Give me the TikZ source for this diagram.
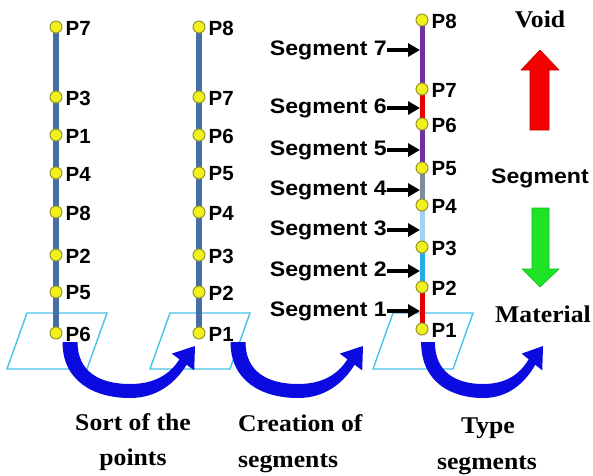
\documentclass[tikz,border=0pt]{standalone}
\usepackage{fontspec}
\setmainfont[FakeStretch=1.07]{Liberation Serif}
\setsansfont{Liberation Sans}
\newfontfamily\segfamily[FakeStretch=1.1]{Liberation Sans}
\usetikzlibrary{arrows.meta}
\definecolor{ptfill}{RGB}{240,240,30}
\definecolor{ptborder}{RGB}{150,150,40}
\definecolor{colblue}{RGB}{72,110,170}
\definecolor{paracol}{RGB}{70,195,230}
\definecolor{bigblue}{RGB}{10,10,225}
\definecolor{segpurple}{RGB}{112,48,160}
\definecolor{segred}{RGB}{230,0,0}
\definecolor{seggray}{RGB}{125,140,155}
\definecolor{seglight}{RGB}{165,210,240}
\definecolor{segsky}{RGB}{40,170,230}
\definecolor{upred}{RGB}{245,0,0}
\definecolor{downgreen}{RGB}{30,228,40}
\newcommand\ptlabfont{\sffamily\bfseries\fontsize{20.5}{20.5}\selectfont}
\newcommand\seglabfont{\segfamily\bfseries\fontsize{21}{21}\selectfont}
\newcommand\serlabfont{\rmfamily\bfseries\fontsize{24}{24}\selectfont}
\pgfdeclarelayer{back}
\pgfdeclarelayer{mid}
\pgfsetlayers{back,mid,main}
\tikzset{
  ptc/.style={circle, draw=ptborder, fill=ptfill, line width=1pt, minimum size=12pt, inner sep=0pt,
    label={[ptlab]right:#1}},
  ptlab/.style={font=\ptlabfont, inner sep=0pt, label distance=3pt, yshift=-1pt},
  colline/.style={draw=colblue, line width=6pt},
  segline/.style={line width=5pt},
  para/.style={draw=paracol, line width=1.4pt},
  seglab/.style={font=\seglabfont, inner sep=0pt, anchor=east},
  segarr/.style={line width=3.6pt, -{Triangle[length=12pt,width=13pt]}},
  sertext/.style={font=\serlabfont, inner sep=0pt, anchor=base},
  bigarrow/.style={fill=bigblue},
}
\newcommand\bigarrowshape{%
  (-7.5,0) .. controls (-7.5,40) and (25,56) .. (60,56)
  .. controls (88,56) and (106,40) .. (116.6,22.7)
  -- (124.2,28.4) -- (125,4) -- (101.8,11.6) -- (109.4,17.3)
  .. controls (100,32) and (85,42) .. (60,42)
  .. controls (30,42) and (7.5,30) .. (7.5,0) -- cycle}
\begin{document}
\begin{tikzpicture}[x=1pt,y=-1pt]
\useasboundingbox (0,0) rectangle (593,475);
% parallelograms
\begin{pgfonlayer}{back}
\foreach \cx in {56,199,422}{
  \draw[para] (\cx-29,313) -- (\cx+51,313) -- (\cx+31,369) -- (\cx-49,369) -- cycle;
}
\end{pgfonlayer}
% column 1
\node[ptc=P7] (a7) at (56,27) {};
\node[ptc=P3] (a3) at (56,97) {};
\node[ptc=P1] (a1) at (56,135) {};
\node[ptc=P4] (a4) at (56,173) {};
\node[ptc=P8] (a8) at (56,212) {};
\node[ptc=P2] (a2) at (56,255) {};
\node[ptc=P5] (a5) at (56,292) {};
\node[ptc=P6] (a6) at (56,333) {};
% column 2
\node[ptc=P8] (b8) at (199,27) {};
\node[ptc=P7] (b7) at (199,97) {};
\node[ptc=P6] (b6) at (199,135) {};
\node[ptc=P5] (b5) at (199,173) {};
\node[ptc=P4] (b4) at (199,212) {};
\node[ptc=P3] (b3) at (199,255) {};
\node[ptc=P2] (b2) at (199,292) {};
\node[ptc=P1] (b1) at (199,333) {};
% column 3
\node[ptc=P8] (c8) at (422,20) {};
\node[ptc=P7] (c7) at (422,89) {};
\node[ptc=P6] (c6) at (422,124) {};
\node[ptc=P5] (c5) at (422,168) {};
\node[ptc=P4] (c4) at (422,205) {};
\node[ptc=P3] (c3) at (422,247) {};
\node[ptc=P2] (c2) at (422,287) {};
\node[ptc=P1] (c1) at (422,329) {};
\begin{pgfonlayer}{mid}
\draw[colline] (a7.center) -- (a6.center);
\draw[colline] (b8.center) -- (b1.center);
\draw[segline, draw=segred] (c1.center) -- (c2.center);
\draw[segline, draw=segsky] (c2.center) -- (c3.center);
\draw[segline, draw=seglight] (c3.center) -- (c4.center);
\draw[segline, draw=seggray] (c4.center) -- (c5.center);
\draw[segline, draw=segpurple] (c5.center) -- (c6.center);
\draw[segline, draw=segred] (c6.center) -- (c7.center);
\draw[segline, draw=segpurple] (c7.center) -- (c8.center);
\end{pgfonlayer}
% segment labels
\foreach \n/\yy in {7/50,6/108,5/150,4/190,3/230,2/271,1/311}{
  \node[seglab] (s\n) at (387,\yy) {Segment \n};
  \coordinate (t\n) at (420,\yy);
  \draw[segarr] (s\n.east) -- (t\n);
}
% big blue arrows
\fill[bigarrow, shift={(70,342)}] \bigarrowshape;
\fill[bigarrow, shift={(238,342)}] \bigarrowshape;
\fill[bigarrow, shift={(428,342)}, xscale=0.92] \bigarrowshape;
% bottom captions
\node[sertext] (cap1a) at (133,430) {Sort of the};
\node[sertext] (cap1b) at (133,465) {points};
\node[sertext, anchor=base west] (cap2a) at (238,431) {Creation of};
\node[sertext, anchor=base west] (cap2b) at (238,467) {segments};
\node[sertext] (cap3a) at (488,433) {Type};
\node[sertext] (cap3b) at (487,469) {segments};
% right legend
\node[sertext] (void) at (540,27) {Void};
\node[font=\seglabfont, inner sep=0pt, anchor=base] (segw) at (540,183) {Segment};
\node[sertext] (mat) at (543,322) {Material};
\draw[draw=upred!80!black, fill=upred, line width=0.6pt]
  (530,130) -- (530,70) -- (521,70) -- (540,50) -- (559,70) -- (549,70) -- (549,130) -- cycle;
\draw[draw=downgreen!80!black, fill=downgreen, line width=0.6pt]
  (532,208) -- (549,208) -- (549,269) -- (559,269) -- (540,287) -- (522,269) -- (532,269) -- cycle;
\end{tikzpicture}
\end{document}
